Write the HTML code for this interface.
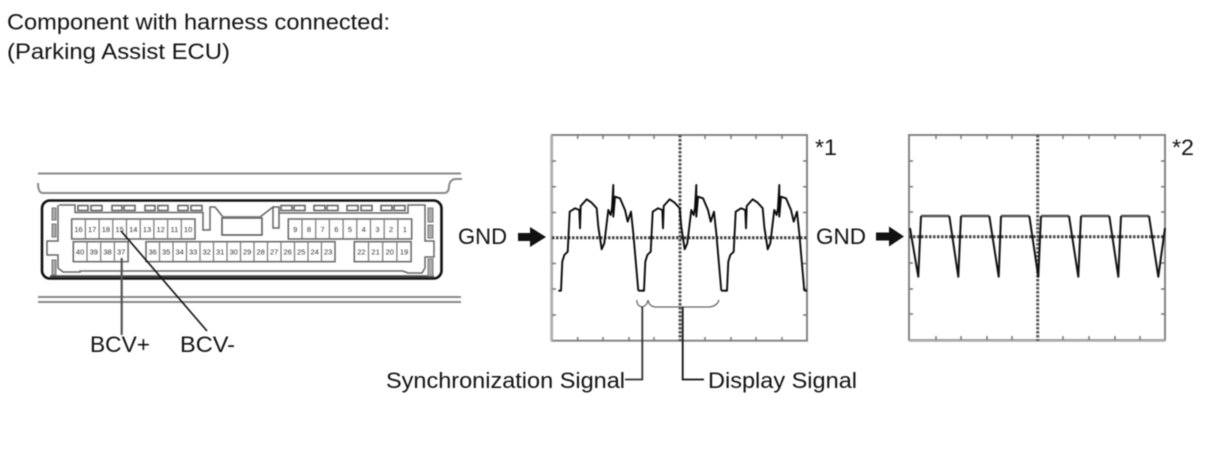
<!DOCTYPE html>
<html lang="en">
<head>
<meta charset="utf-8">
<title>Parking Assist ECU waveform</title>
<style>
html,body{margin:0;padding:0;background:#fff;width:1210px;height:474px;overflow:hidden}
svg{display:block;filter:blur(0.6px)}
text{font-family:"Liberation Sans",sans-serif;fill:#111}
.p{font-size:7.500px;fill:#333;text-anchor:middle}
.l{font-size:22.500px}
</style>
</head>
<body>
<svg width="1210" height="474" viewBox="0 0 1210 474" xmlns="http://www.w3.org/2000/svg">
<defs>
<clipPath id="c1"><rect x="552" y="135" width="255" height="206"/></clipPath>
<path id="w" d="M558.300 290.700H561L562.300 261.700L564.300 255L567.700 251.700L569.700 211.700L575 208.300L579.300 210L580 228.300L580.700 206L586.700 199.300L591.700 202.700L596.700 208.300L598.300 226.700L601.700 249.300L604.300 243.300L608.300 210L610.700 215L612 208L613.300 185V216.700L615 196.700L620 198.300L625 210L627.700 221.700L631 211.700L633.300 233.300L638.300 290.700" />
</defs>

<text class="l" x="7" y="29.500" textLength="383" lengthAdjust="spacingAndGlyphs">Component with harness connected:</text>
<text class="l" x="7" y="59" textLength="223" lengthAdjust="spacingAndGlyphs">(Parking Assist ECU)</text>

<!-- connector housing lines -->
<g fill="none" stroke="#888" stroke-width="2">
<path d="M38 173.500H461"/>
<path d="M38 183Q38 193 43 193H444Q449 193 449 186Q450 179 456 179H462"/>
<path d="M38 297H461"/>
<path d="M38 302H461"/>
</g>
<rect x="42" y="200.500" width="399.500" height="78" rx="8" fill="#fff" stroke="#111" stroke-width="2.600"/>
<path d="M50 276.500H434" stroke="#444" stroke-width="2.400"/>
<!-- inner outline -->
<path d="M59 205H75V212.500H203V230H210V207H215L223 217M273 207H279V213M260 217L273 207V228H279V213H408V205H425V241H434V257H425V268L422 273H408L403 271H80V272H63L58 268V255H47V241H58V205" fill="none" stroke="#666" stroke-width="1.500"/>
<rect x="222" y="218" width="40" height="17" fill="#fff" stroke="#555" stroke-width="1.500"/>
<path d="M223 217H261" stroke="#777" stroke-width="1.800"/>
<!-- latch tabs -->
<g fill="#fff" stroke="#666" stroke-width="1.600">
<rect x="78" y="205.500" width="10" height="5"/><rect x="91" y="205.500" width="11" height="5"/>
<rect x="112" y="205.500" width="10" height="5"/><rect x="124" y="205.500" width="11" height="5"/>
<rect x="145" y="205.500" width="10" height="5"/><rect x="158" y="205.500" width="10" height="5"/>
<rect x="178" y="205.500" width="10" height="5"/><rect x="191" y="205.500" width="11" height="5"/>
<rect x="281" y="205.500" width="11" height="5"/><rect x="294" y="205.500" width="11" height="5"/>
<rect x="314" y="205.500" width="11" height="5"/><rect x="327" y="205.500" width="11" height="5"/>
<rect x="347" y="205.500" width="11" height="5"/><rect x="361" y="205.500" width="11" height="5"/>
<rect x="381" y="205.500" width="11" height="5"/><rect x="394" y="205.500" width="11" height="5"/>
</g>
<g fill="#aaa" stroke="#777" stroke-width="1">
<rect x="52" y="208" width="4" height="12"/><rect x="52" y="224" width="4" height="13"/><rect x="52" y="260" width="4" height="15"/>
<rect x="428" y="208" width="5" height="14"/><rect x="428" y="225" width="5" height="13"/><rect x="428" y="259" width="5" height="17"/>
</g>
<!-- pin blocks -->
<g fill="#fff" stroke="#666" stroke-width="1.500">
<rect x="71.700" y="219" width="123.300" height="20"/>
<rect x="73.300" y="241.700" width="54.800" height="20"/>
<rect x="146" y="241.700" width="189" height="20"/>
<rect x="288.300" y="219" width="123.400" height="20"/>
<rect x="354.300" y="241.700" width="56.800" height="20"/>
</g>
<path d="M85.400 219v20M99.100 219v20M112.800 219v20M126.500 219v20M140.200 219v20M153.900 219v20M167.600 219v20M181.300 219v20M87 241.700v20M100.700 241.700v20M114.400 241.700v20M159.500 241.700v20M173 241.700v20M186.500 241.700v20M200 241.700v20M213.500 241.700v20M227 241.700v20M240.500 241.700v20M254 241.700v20M267.500 241.700v20M281 241.700v20M294.500 241.700v20M308 241.700v20M321.500 241.700v20M302 219v20M315.700 219v20M329.400 219v20M343.100 219v20M356.800 219v20M370.500 219v20M384.200 219v20M397.900 219v20M368.500 241.700v20M382.700 241.700v20M396.900 241.700v20" stroke="#777" stroke-width="1.200" fill="none"/>
<g class="pins">
<text class="p" x="78.500" y="232">16</text><text class="p" x="92.200" y="232">17</text><text class="p" x="105.900" y="232">18</text><text class="p" x="119.600" y="232">15</text><text class="p" x="133.300" y="232">14</text><text class="p" x="147" y="232">13</text><text class="p" x="160.700" y="232">12</text><text class="p" x="174.400" y="232">11</text><text class="p" x="188.100" y="232">10</text>
<text class="p" x="80.100" y="254.500">40</text><text class="p" x="93.800" y="254.500">39</text><text class="p" x="107.500" y="254.500">38</text><text class="p" x="121.200" y="254.500">37</text>
<text class="p" x="152.700" y="254.500">36</text><text class="p" x="166.200" y="254.500">35</text><text class="p" x="179.700" y="254.500">34</text><text class="p" x="193.200" y="254.500">33</text><text class="p" x="206.700" y="254.500">32</text><text class="p" x="220.200" y="254.500">31</text><text class="p" x="233.700" y="254.500">30</text><text class="p" x="247.200" y="254.500">29</text><text class="p" x="260.700" y="254.500">28</text><text class="p" x="274.200" y="254.500">27</text><text class="p" x="287.700" y="254.500">26</text><text class="p" x="301.200" y="254.500">25</text><text class="p" x="314.700" y="254.500">24</text><text class="p" x="328.200" y="254.500">23</text>
<text class="p" x="295.200" y="232">9</text><text class="p" x="308.900" y="232">8</text><text class="p" x="322.600" y="232">7</text><text class="p" x="336.300" y="232">6</text><text class="p" x="350" y="232">5</text><text class="p" x="363.700" y="232">4</text><text class="p" x="377.400" y="232">3</text><text class="p" x="391.100" y="232">2</text><text class="p" x="404.800" y="232">1</text>
<text class="p" x="361.400" y="254.500">22</text><text class="p" x="375.600" y="254.500">21</text><text class="p" x="389.800" y="254.500">20</text><text class="p" x="404" y="254.500">19</text>
</g>
<!-- leaders -->
<path d="M121.700 258V335" stroke="#555" stroke-width="2.200" fill="none"/>
<path d="M121 231L207 331" stroke="#111" stroke-width="1.600" fill="none"/>
<text class="l" x="90" y="352" textLength="60" lengthAdjust="spacingAndGlyphs">BCV+</text>
<text class="l" x="180" y="352" textLength="55" lengthAdjust="spacingAndGlyphs">BCV-</text>

<!-- GND arrows -->
<text class="l" x="458" y="244" textLength="49" lengthAdjust="spacingAndGlyphs">GND</text>
<path d="M518 233H530V227L546 237L530 247V241H518Z" fill="#111"/>
<text class="l" x="816" y="244" textLength="50" lengthAdjust="spacingAndGlyphs">GND</text>
<path d="M876 232.500H889V226.500L904 236.500L889 246.500V240.500H876Z" fill="#111"/>

<!-- scope 1 -->
<rect x="552" y="135" width="255" height="205.700" fill="#fff" stroke="#808080" stroke-width="1.900"/>
<path d="M551.500 135V341" stroke="#b0b0b0" stroke-width="2.500" fill="none"/>
<path d="M577.700 135v4M603 135v4M629 135v4M654 135v4M705 135v4M731 135v4M756 135v4M782 135v4M577.700 341v-4M603 341v-4M629 341v-4M654 341v-4M705 341v-4M731 341v-4M756 341v-4M782 341v-4M552 161h4M552 186.700h4M552 212.500h4M552 263.500h4M552 289h4M552 315h4M807 161h-4M807 186.700h-4M807 212.500h-4M807 263.500h-4M807 289h-4M807 315h-4" stroke="#777" stroke-width="1.500" fill="none"/>
<path d="M552 237.700H807" stroke="#444" stroke-width="3" stroke-dasharray="2.500 1.500" fill="none"/>
<path d="M680 135V341" stroke="#555" stroke-width="3" stroke-dasharray="2.500 1.500" fill="none"/>
<g clip-path="url(#c1)" fill="none" stroke="#0a0a0a" stroke-width="1.900" stroke-linejoin="round">
<use href="#w"/>
<use href="#w" transform="translate(83 0)"/>
<use href="#w" transform="translate(166 0)"/>
<path d="M638.300 290.700H643M721.300 290.700H726M804.300 290.700H807"/>
</g>

<!-- scope 2 -->
<rect x="909" y="135" width="256" height="205" fill="#fff" stroke="#808080" stroke-width="1.900"/>
<path d="M909 340.500H1165" stroke="#aaa" stroke-width="2.500" fill="none"/>
<path d="M936 135v4M961 135v4M987 135v4M1012 135v4M1063 135v4M1089 135v4M1115 135v4M1140 135v4M936 340v-4M961 340v-4M987 340v-4M1012 340v-4M1063 340v-4M1089 340v-4M1115 340v-4M1140 340v-4M909 161h4M909 186.700h4M909 212h4M909 263h4M909 289h4M909 314h4M1165 161h-4M1165 186.700h-4M1165 212h-4M1165 263h-4M1165 289h-4M1165 314h-4" stroke="#777" stroke-width="1.500" fill="none"/>
<path d="M909 236.700H1165" stroke="#444" stroke-width="3" stroke-dasharray="2.500 1.500" fill="none"/>
<path d="M1037.700 135V341" stroke="#555" stroke-width="3" stroke-dasharray="2.500 1.500" fill="none"/>
<path d="M921 216H949.300M961 216H989.300M1001 216H1029.300M1041 216H1069M1081 216H1109.300M1121 216H1149" stroke="#555" stroke-width="2.600" fill="none"/>
<path d="M910 228L918.300 276.700L921 216M949.300 216L958.300 276.700L961 216M989.300 216L998.700 276.700L1001 216M1029.300 216L1038.300 276.700L1041 216M1069 216L1078.300 276.700L1081 216M1109.300 216L1118.300 276.700L1121 216M1149 216L1158.300 276.700L1165 228" stroke="#111" stroke-width="2" fill="none" stroke-linejoin="round"/>

<text class="l" x="815" y="155" textLength="22" lengthAdjust="spacingAndGlyphs">*1</text>
<text class="l" x="1172" y="155" textLength="22" lengthAdjust="spacingAndGlyphs">*2</text>

<!-- braces and signal leaders -->
<path d="M636.700 300Q637 306 642 307Q647 306 648 300Q649 306 655 307H710Q717 306 719 300" fill="none" stroke="#666" stroke-width="1.200"/>
<path d="M642.300 307V379.500H625" fill="none" stroke="#333" stroke-width="1.800"/>
<path d="M682.700 307V379.500H704" fill="none" stroke="#111" stroke-width="1.800"/>
<text class="l" x="386" y="388" textLength="239" lengthAdjust="spacingAndGlyphs">Synchronization Signal</text>
<text class="l" x="708" y="388" textLength="149" lengthAdjust="spacingAndGlyphs">Display Signal</text>
</svg>
</body>
</html>
